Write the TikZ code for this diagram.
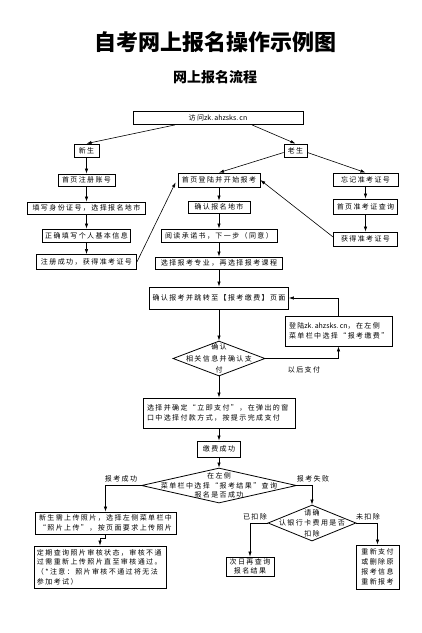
\documentclass[tikz,border=0pt]{standalone}
\usepackage{fontspec}
\setmainfont{Noto Sans CJK SC}
\newfontfamily\cjk{Noto Sans CJK SC}
\newfontfamily\cjkbox[LetterSpace=20]{Noto Sans CJK SC}
\usetikzlibrary{arrows.meta,shapes.geometric,calc}
\begin{document}
\begin{tikzpicture}[x=1pt,y=-1pt,
  box/.style={draw, line width=0.8pt, inner sep=0pt, align=center,
    font=\cjkbox\fontsize{7}{10}\selectfont},
  lbox/.style={draw, line width=0.8pt, inner xsep=4pt, inner ysep=0pt, align=left,
    font=\cjkbox\fontsize{7}{10}\selectfont},
  dia/.style={draw, diamond, line width=0.8pt, inner sep=0pt},
  dtext/.style={inner sep=0pt, align=center, font=\cjkbox\fontsize{7}{10.5}\selectfont},
  lbl/.style={inner sep=0pt, font=\cjkbox\fontsize{7}{10}\selectfont},
  arr/.style={line width=0.6pt, -{Latex[length=5pt,width=3.4pt]}}]
\fill[white] (0,0) rectangle (422,633);
\useasboundingbox (0,0) rectangle (422,633);

\node[font=\cjk\bfseries\fontsize{22}{22}\selectfont, inner sep=0pt] (title) at (215.5,42) {自考网上报名操作示例图};
\node[font=\cjk\bfseries\fontsize{14}{14}\selectfont, inner sep=0pt] (sub) at (215,77.5) {网上报名流程};

% top
\node[box, minimum width=170, minimum height=13] (visit) at (218,118) {访问{\cjk zk.\,ahzsks.\,cn}};
\node[box, minimum width=25, minimum height=13] (xs) at (86.5,150.5) {新生};
\node[box, minimum width=23, minimum height=13] (ls) at (295.5,150.5) {老生};

% left column
\node[box, minimum width=57, minimum height=12] (zc) at (86.5,180) {首页注册账号};
\node[box, minimum width=118, minimum height=12] (tx) at (86.5,208) {填写身份证号，选择报名地市};
\node[box, minimum width=88, minimum height=13] (zq) at (86.5,235.5) {正确填写个人基本信息};
\node[box, minimum width=100, minimum height=15] (cg) at (86.5,262) {注册成功，获得准考证号};

% middle column
\node[box, minimum width=82, minimum height=14] (dl) at (219,180) {首页登陆并开始报考};
\node[box, minimum width=62, minimum height=12] (qr) at (219,207) {确认报名地市};
\node[box, minimum width=116, minimum height=13] (yd) at (219,235.5) {阅读承诺书，下一步（同意）};
\node[box, minimum width=127, minimum height=12] (xz) at (219,263) {选择报考专业，再选择报考课程};

% right column
\node[box, minimum width=65, minimum height=13] (wj) at (365.5,179.5) {忘记准考证号};
\node[box, minimum width=64, minimum height=15] (cx) at (365.5,206.5) {首页准考证查询};
\node[box, minimum width=64, minimum height=14] (hd) at (365.5,239) {获得准考证号};

% payment
\node[box, minimum width=139, minimum height=22] (tz) at (219,298) {确认报考并跳转至【报考缴费】页面};
\node[lbox, text width=99, minimum height=30] (dlz) at (338.5,331) {登陆{\cjk zk.\,ahzsks.\,cn}，在左侧\\菜单栏中选择“报考缴费”};
\node[dia, minimum width=92, minimum height=35] (d1) at (219,358.5) {};
\node[dtext, font=\cjkbox\fontsize{7}{11.5}\selectfont] (d1t) at (d1.center) {确认\\相关信息并确认支\\付};
\node[lbl] (later) at (304,370) {以后支付};

\node[lbox, text width=144, minimum height=30] (zf) at (219,413) {选择并确定“立即支付”，在弹出的窗\\口中选择付款方式，按提示完成支付};
\node[box, minimum width=43, minimum height=16] (jf) at (219,449) {缴费成功};
\node[dia, minimum width=155, minimum height=35] (d2) at (219,485.5) {};
\node[dtext, font=\cjkbox\fontsize{7}{9.5}\selectfont] (d2t) at (d2.center) {在左侧\\菜单栏中选择“报考结果”查询\\报名是否成功};
\node[lbl] (succ) at (121,479) {报考成功};
\node[lbl] (fail) at (313,479) {报考失败};

% left bottom
\node[box, minimum width=141, minimum height=22] (sc) at (105.5,523) {新生需上传照片，选择左侧菜单栏中\\“照片上传”，按页面要求上传照片};
\node[lbox, inner xsep=3pt, text width=126, minimum height=42, font=\cjkbox\fontsize{7}{9.7}\selectfont] (dq) at (100,567) {定期查询照片审核状态，审核不通\\过需重新上传照片直至审核通过。\\（*注意：照片审核不通过将无法\\参加考试）};

% right bottom
\node[dia, minimum width=88, minimum height=36] (d3) at (312,523) {};
\node[dtext] (d3t) at (d3.center) {请确\\认银行卡费用是否\\扣除};
\node[lbl] (yk) at (255,517) {已扣除};
\node[lbl] (wk) at (368,517) {未扣除};
\node[box, minimum width=48, minimum height=19, font=\cjkbox\fontsize{7}{9}\selectfont] (cr) at (250,566.5) {次日再查询\\报名结果};
\node[box, minimum width=43, minimum height=44] (cz) at (377.5,567) {重新支付\\或删除原\\报考信息\\重新报考};

% connectors
\draw[arr] ([xshift=-43pt]visit.south) -- (xs.north);
\draw[arr] ([xshift=34pt]visit.south) -- (ls.north);
\draw[arr] (xs) -- (zc);
\draw[arr] (zc) -- (tx);
\draw[arr] (tx) -- (zq);
\draw[arr] (zq) -- (cg);
\draw[arr] (cg.east) -- ([xshift=-2pt,yshift=5pt]dl.south west);
\draw[arr] ([yshift=-2pt]ls.west) -- (dl.north);
\draw[arr] ([yshift=-2pt]ls.east) -- (wj.north);
\draw[arr] (dl) -- (qr);
\draw[arr] (qr) -- (yd);
\draw[arr] (yd) -- (xz);
\draw[arr] (xz) -- (tz);
\draw[arr] (wj) -- (cx);
\draw[arr] (cx) -- (hd);
\draw[arr] ([yshift=2pt]hd.west) -- (dl.east);
\draw[arr] (tz.south) -- (d1.north);
\draw[arr] (d1.east) -| (dlz.south);
\draw[arr] (dlz.north) |- (tz.east);
\draw[arr] (d1.south) -- (zf.north);
\draw[arr] (zf.south) -- (jf.north);
\draw[arr] (jf.south) -- (d2.north);
\draw[arr] (d2.west) -| (sc.north);
\draw[arr] (d2.east) -| (d3.north);
\draw[arr] (d3.west) -| (cr.north);
\draw[arr] (d3.east) -| (cz.north);
\draw[arr] (sc.south) -- ++(0,4) -| (dq.north);
\end{tikzpicture}
\end{document}
